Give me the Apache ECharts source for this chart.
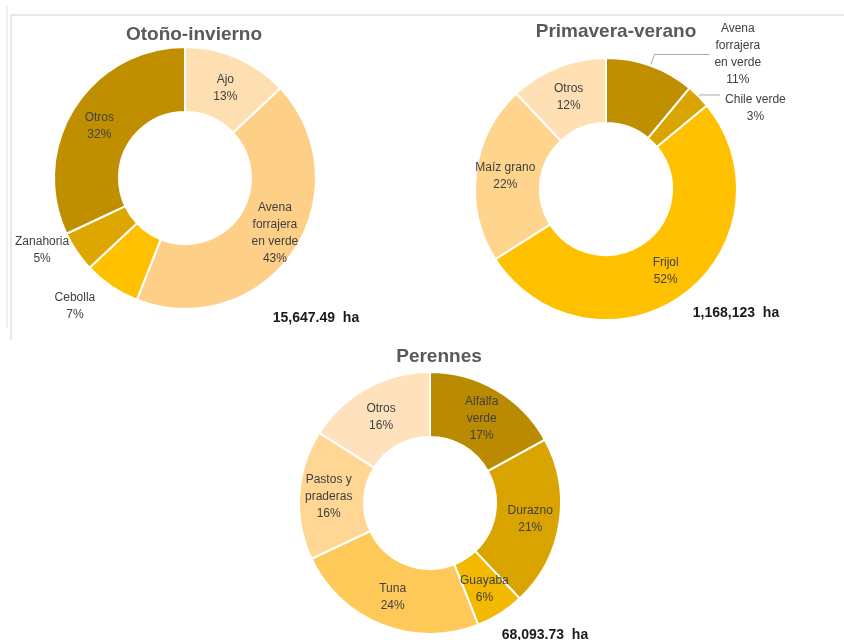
<!DOCTYPE html>
<html>
<head>
<meta charset="utf-8">
<script src="https://cdn.jsdelivr.net/npm/echarts@6/dist/echarts.min.js"></script>
<style>
    html, body { margin: 0; padding: 0; background: #fff; }
    #main { width: 844px; height: 640px; }
</style>
</head>
<body>
<div id="main"></div>
<script>
// Otoño-invierno
var oiNames = ['Ajo', 'Avena\nforrajera\nen verde', 'Cebolla', 'Zanahoria', 'Otros'];
var oiValues = [13, 43, 7, 5, 32];
var oiColors = ['#FDDFB2', '#FECF87', '#FFC000', '#DDA600', '#BF8F00'];

// Primavera-verano
var pvNames = ['Avena\nforrajera\nen verde', 'Chile verde', 'Frijol', 'Maíz grano', 'Otros'];
var pvValues = [11, 3, 52, 22, 12];
var pvColors = ['#BF8F00', '#DAA500', '#FFC000', '#FFD48C', '#FFE0B5'];

// Perennes
var peNames = ['Alfalfa\nverde', 'Durazno', 'Guayaba', 'Tuna', 'Pastos y\npraderas', 'Otros'];
var peValues = [17, 21, 6, 24, 16, 16];
var peColors = ['#BA8B00', '#D9A400', '#F2B900', '#FFC95A', '#FFD694', '#FFE2BD'];

var totals = ['15,647.49  ha', '1,168,123  ha', '68,093.73  ha'];

var FONT = 'Liberation Sans';

function toData(names, values, colors) {
    return names.map(function (n, i) {
        return { name: n, value: values[i], itemStyle: { color: colors[i] } };
    });
}

// etiquetas centradas
function fmt(p) {
    return '{t|' + p.name + '\n' + p.value + '%}';
}

function donut(center, data, layoutFn) {
    return {
        type: 'pie',
        center: center,
        radius: [66, 131],
        startAngle: 90,
        clockwise: true,
        avoidLabelOverlap: false,
        itemStyle: { borderColor: '#fff', borderWidth: 2 },
        label: {
            position: 'inside',
            formatter: fmt,
            rich: {
                t: { fontFamily: FONT, fontSize: 12, lineHeight: 17, color: '#404040', align: 'center' }
            }
        },
        labelLine: { show: false },
        labelLayout: layoutFn,
        emphasis: { disabled: true },
        data: data
    };
}

var chart = echarts.init(document.getElementById('main'));

var pvData = toData(pvNames, pvValues, pvColors);
// etiquetas externas con línea guía
pvData[0].label = { position: 'outside' };
pvData[0].labelLine = { show: true, length: 12, length2: 55, lineStyle: { color: '#A6A6A6', width: 1 } };
pvData[1].label = { position: 'outside' };
pvData[1].labelLine = { show: true, length: 2, length2: 20, lineStyle: { color: '#A6A6A6', width: 1 } };

var titleStyle = { fontFamily: FONT, fontSize: 19, fontWeight: 'bold', color: '#595959' };
var totalStyle = { fontFamily: FONT, fontSize: 14, fontWeight: 'bold', color: '#1a1a1a' };

var option = {
    backgroundColor: '#fff',
    animation: false,
    title: [
        { text: 'Otoño-invierno', left: 189, top: 20, textAlign: 'center', textStyle: titleStyle },
        { text: 'Primavera-verano', left: 611, top: 17, textAlign: 'center', textStyle: titleStyle },
        { text: 'Perennes', left: 434, top: 342, textAlign: 'center', textStyle: titleStyle },
        { text: totals[0], left: 311, top: 306, textAlign: 'center', textStyle: totalStyle },
        { text: totals[1], left: 731, top: 301, textAlign: 'center', textStyle: totalStyle },
        { text: totals[2], left: 540, top: 623, textAlign: 'center', textStyle: totalStyle }
    ],
    graphic: [
        { type: 'line', shape: { x1: 11, y1: 15, x2: 844, y2: 15 }, style: { stroke: '#D0D0D0', lineWidth: 1 } },
        { type: 'line', shape: { x1: 11, y1: 15, x2: 11, y2: 340 }, style: { stroke: '#D0D0D0', lineWidth: 1 } },
        { type: 'line', shape: { x1: 7, y1: 5, x2: 7, y2: 328 }, style: { stroke: '#E0E0E0', lineWidth: 1 } }
    ],
    series: [
        donut([185, 178], toData(oiNames, oiValues, oiColors), function (p) {
            // Cebolla y Zanahoria fuera del anillo
            if (p.dataIndex === 2) return { dx: -53, dy: 44 };
            if (p.dataIndex === 3) return { dx: -59, dy: 15 };
            if (p.dataIndex === 1) return { dx: 6, dy: -2 };
            return { dy: 3 };
        }),
        donut([606, 189], pvData, function (p) {
            if (p.dataIndex === 1) return { dy: 13 };
            if (p.dataIndex === 4) return { dy: 3 };
        }),
        donut([430, 503], toData(peNames, peValues, peColors), function (p) {
            if (p.dataIndex === 0 || p.dataIndex === 5) return { dy: 3 };
        })
    ]
};

chart.setOption(option);
</script>
</body>
</html>
